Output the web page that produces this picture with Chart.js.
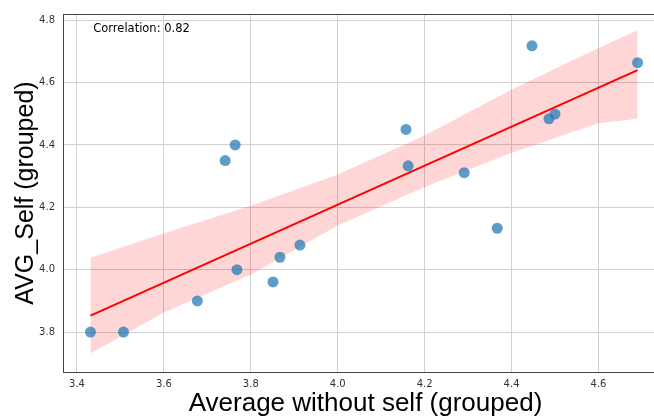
<!DOCTYPE html>
<html>
<head>
<meta charset="utf-8">
<script src="https://cdn.jsdelivr.net/npm/chart.js@4"></script>
<style>
  html, body { margin: 0; padding: 0; background: #fff; }
  #frame { width: 654px; height: 417px; overflow: hidden; position: relative; }
  #wrap { width: 680px; height: 417px; }
</style>
</head>
<body>
<div id="frame"><div id="wrap"><canvas id="chartCorr"></canvas></div></div>
<script>
// puntos (promedio sin uno mismo vs autoevaluacion)
const avgWithoutSelf = [3.431, 3.507, 3.677, 3.768, 3.851, 3.867, 3.913, 3.741, 3.764,
                        4.157, 4.162, 4.291, 4.367, 4.447, 4.486, 4.500, 4.690];
const avgSelf = [3.80, 3.80, 3.90, 4.00, 3.961, 4.04, 4.079, 4.35, 4.40,
                 4.45, 4.333, 4.311, 4.133, 4.718, 4.484, 4.499, 4.664];

// recta de regresion (extremos)
const fitX = [3.431, 4.690];
const fitY = [3.853, 4.640];

// banda de confianza
const bandX = [3.431, 3.6, 3.8, 4.0, 4.2, 4.4, 4.6, 4.690];
const bandUpper = [4.038, 4.117, 4.205, 4.305, 4.430, 4.578, 4.711, 4.768];
const bandLower = [3.731, 3.863, 3.985, 4.142, 4.265, 4.375, 4.470, 4.484];

const xTicks = [3.4, 3.6, 3.8, 4.0, 4.2, 4.4, 4.6];
const yTicks = [3.8, 4.0, 4.2, 4.4, 4.6, 4.8];
const correlationText = 'Correlation: 0.82';

const toXY = (xs, ys) => xs.map((x, i) => ({ x: x, y: ys[i] }));

const marcoYTexto = {
    id: 'marcoYTexto',
    afterDraw(chart) {
        const { ctx, chartArea } = chart;
        ctx.save();
        ctx.strokeStyle = '#444';
        ctx.lineWidth = 1;
        ctx.beginPath();
        ctx.moveTo(chartArea.left, chartArea.top + 0.5);
        ctx.lineTo(chartArea.right, chartArea.top + 0.5);
        ctx.stroke();
        const w = chartArea.right - chartArea.left;
        const h = chartArea.bottom - chartArea.top;
        ctx.fillStyle = '#000';
        ctx.font = '11.5px "DejaVu Sans"';
        ctx.textAlign = 'left';
        ctx.textBaseline = 'alphabetic';
        ctx.fillText(correlationText, chartArea.left + 0.05 * w, chartArea.bottom - 0.95 * h);
        ctx.restore();
    }
};

const tickFont = { family: 'DejaVu Sans', size: 10 };

const config = {
    type: 'scatter',
    data: {
        datasets: [{
            type: 'scatter',
            label: 'AVG_Self',
            data: toXY(avgWithoutSelf, avgSelf),
            backgroundColor: 'rgba(31, 119, 180, 0.72)',
            borderWidth: 0,
            pointRadius: 5.5,
            order: 0
        }, {
            type: 'line',
            label: 'fit',
            data: toXY(fitX, fitY),
            borderColor: 'rgb(255, 0, 0)',
            borderWidth: 2,
            pointRadius: 0,
            fill: false,
            order: 1
        }, {
            type: 'line',
            label: 'upper',
            data: toXY(bandX, bandUpper),
            borderWidth: 0,
            borderColor: 'rgba(0,0,0,0)',
            backgroundColor: 'rgba(255, 0, 0, 0.16)',
            pointRadius: 0,
            fill: '+1',
            order: 2
        }, {
            type: 'line',
            label: 'lower',
            data: toXY(bandX, bandLower),
            borderWidth: 0,
            borderColor: 'rgba(0,0,0,0)',
            pointRadius: 0,
            fill: false,
            order: 2
        }]
    },
    options: {
        responsive: true,
        maintainAspectRatio: false,
        animation: false,
        layout: { padding: { left: 0, right: 12, top: 11, bottom: 0 } },
        plugins: { legend: { display: false }, tooltip: { enabled: false } },
        scales: {
            x: {
                type: 'linear',
                min: 3.3678,
                max: 4.760,
                afterFit: (s) => { s.height = 45 },
                afterBuildTicks: (s) => { s.ticks = xTicks.map((v) => ({ value: v })) },
                ticks: { callback: (v) => Number(v).toFixed(1), font: tickFont, color: '#333', padding: 6, maxRotation: 0, autoSkip: false },
                grid: { color: '#d0d0d0', drawTicks: false },
                border: { color: '#444', width: 1 },
                title: {
                    display: true,
                    text: 'Average without self (grouped)',
                    font: { family: 'Liberation Sans', size: 26 },
                    color: '#000',
                    padding: { top: 0, bottom: -2 }
                }
            },
            y: {
                type: 'linear',
                min: 3.672,
                max: 4.820,
                afterFit: (s) => { s.width = 63 },
                afterBuildTicks: (s) => { s.ticks = yTicks.map((v) => ({ value: v })) },
                ticks: { callback: (v) => Number(v).toFixed(1), font: tickFont, color: '#333', padding: 8, autoSkip: false },
                grid: { color: '#d0d0d0', drawTicks: false },
                border: { color: '#444', width: 1 },
                title: {
                    display: true,
                    text: 'AVG_Self (grouped)',
                    font: { family: 'Liberation Sans', size: 25 },
                    color: '#000',
                    padding: { top: 11, bottom: 0 }
                }
            }
        }
    },
    plugins: [marcoYTexto]
};

const graficoCorr = new Chart(document.getElementById('chartCorr'), config);
</script>
</body>
</html>
